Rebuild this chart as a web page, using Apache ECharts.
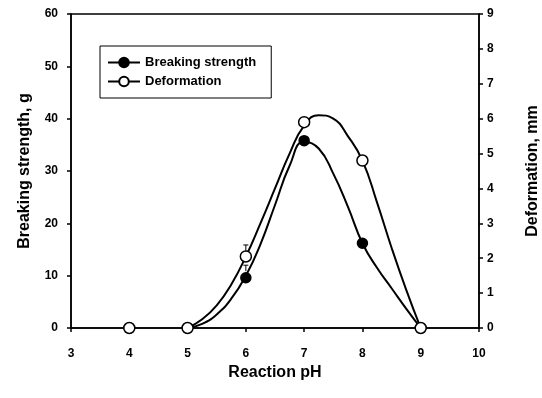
<!DOCTYPE html>
<html>
<head>
<meta charset="utf-8">
<script src="https://cdn.jsdelivr.net/npm/echarts@6/dist/echarts.min.js"></script>
<style>
  html, body { margin: 0; padding: 0; background: #fff; }
  #chart { width: 542px; height: 398px; }
</style>
</head>
<body>
<div id="chart"></div>
<script>
// measured points
const phLevels = [4, 5, 6, 7, 8, 9];
const breakingStrength = [0, 0, 9.6, 35.8, 16.2, 0];   // g
const deformation = [0, 0, 2.05, 5.9, 4.8, 0];         // mm

// error bar tops (pH 6 only visible)
const breakingErrTop = [[6, 12.0]];
const deformErrTop = [[6, 2.38]];

// fitted curves
const fitPh = [5.0, 5.25, 5.5, 5.75, 6.0, 6.25, 6.5, 6.75, 7.0, 7.25, 7.5, 7.75, 8.0, 8.25, 8.5, 8.75, 9.0];
const breakingFit = [0, 0.8, 2.6, 5.6, 10.0, 16.0, 23.5, 31.0, 35.6, 34.3, 29.5, 23.2, 16.2, 11.5, 7.6, 3.7, 0];
const deformFit = [0, 0.25, 0.65, 1.25, 2.05, 3.0, 4.0, 5.0, 5.8, 6.1, 6.0, 5.5, 4.8, 3.6, 2.3, 1.1, 0];

const font = 'Liberation Sans, Arial, sans-serif';

const zip = (xs, ys) => xs.map((x, i) => [x, ys[i]]);

const chart = echarts.init(document.getElementById('chart'));

const errBar = (data, axisIdx) => ({
  type: 'custom',
  yAxisIndex: axisIdx,
  silent: true,
  z: 1,
  data: data,
  renderItem: (params, api) => {
    const top = api.coord([api.value(0), api.value(1)]);
    return {
      type: 'group',
      children: [
        { type: 'line', shape: { x1: top[0], y1: top[1], x2: top[0], y2: top[1] + 6 }, style: { stroke: '#000', lineWidth: 1 } },
        { type: 'line', shape: { x1: top[0] - 2.5, y1: top[1], x2: top[0] + 2.5, y2: top[1] }, style: { stroke: '#000', lineWidth: 1 } }
      ]
    };
  }
});

const option = {
  animation: false,
  grid: {
    left: 71, right: 63, top: 14, bottom: 70,
    outerBoundsMode: 'none',
    show: true, borderColor: '#000', borderWidth: 1.5
  },
  legend: {
    orient: 'vertical',
    left: 100, top: 46,
    padding: [10, 15, 10, 7],
    itemGap: 6,
    itemWidth: 32, itemHeight: 12,
    borderColor: '#000', borderWidth: 1,
    textStyle: { fontFamily: font, fontWeight: 'bold', fontSize: 13, color: '#000' },
    data: ['Breaking strength', 'Deformation']
  },
  xAxis: {
    type: 'value', min: 3, max: 10, interval: 1,
    name: 'Reaction pH', nameLocation: 'middle', nameGap: 37,
    nameTextStyle: { fontFamily: font, fontWeight: 'bold', fontSize: 16, color: '#000' },
    axisLine: { lineStyle: { color: '#000', width: 1.5 } },
    axisTick: { inside: false, length: 4, lineStyle: { color: '#000', width: 1.5 } },
    axisLabel: { fontFamily: font, fontWeight: 'bold', fontSize: 12, color: '#000', margin: 20 },
    splitLine: { show: false }
  },
  yAxis: [
    {
      type: 'value', min: 0, max: 60, interval: 10,
      name: 'Breaking strength, g', nameLocation: 'middle', nameGap: 38,
      nameTextStyle: { fontFamily: font, fontWeight: 'bold', fontSize: 16, color: '#000' },
      axisLine: { show: true, lineStyle: { color: '#000', width: 1.5 } },
      axisTick: { show: true, length: 4, lineStyle: { color: '#000', width: 1.5 } },
      axisLabel: { fontFamily: font, fontWeight: 'bold', fontSize: 12, color: '#000', margin: 13 },
      splitLine: { show: false }
    },
    {
      type: 'value', min: 0, max: 9, interval: 1, position: 'right',
      name: 'Deformation, mm', nameLocation: 'middle', nameGap: 46, nameRotate: 90,
      nameTextStyle: { fontFamily: font, fontWeight: 'bold', fontSize: 16, color: '#000' },
      axisLine: { show: true, lineStyle: { color: '#000', width: 1.5 } },
      axisTick: { show: true, length: 4, lineStyle: { color: '#000', width: 1.5 } },
      axisLabel: { fontFamily: font, fontWeight: 'bold', fontSize: 12, color: '#000', margin: 8 },
      splitLine: { show: false }
    }
  ],
  series: [
    {
      name: 'Breaking strength', type: 'line', yAxisIndex: 0,
      data: zip(fitPh, breakingFit), smooth: 0.5, showSymbol: false,
      symbol: 'circle', symbolSize: 10,
      lineStyle: { color: '#000', width: 2 },
      itemStyle: { color: '#000', borderColor: '#000', borderWidth: 1.5 },
      z: 2
    },
    {
      name: 'Breaking strength', type: 'scatter', yAxisIndex: 0,
      data: zip(phLevels, breakingStrength),
      symbol: 'circle', symbolSize: 10,
      itemStyle: { color: '#000', borderColor: '#000', borderWidth: 1.5, opacity: 1 },
      z: 3
    },
    {
      name: 'Deformation', type: 'line', yAxisIndex: 1,
      data: zip(fitPh, deformFit), smooth: 0.5, showSymbol: false,
      symbol: 'circle', symbolSize: 10,
      lineStyle: { color: '#000', width: 2 },
      itemStyle: { color: '#fff', borderColor: '#000', borderWidth: 1.5 },
      z: 4
    },
    {
      name: 'Deformation', type: 'scatter', yAxisIndex: 1,
      data: zip(phLevels, deformation),
      symbol: 'circle', symbolSize: 11,
      itemStyle: { color: '#fff', borderColor: '#000', borderWidth: 1.5, opacity: 1 },
      z: 5
    },
    errBar(breakingErrTop, 0),
    errBar(deformErrTop, 1)
  ]
};

chart.setOption(option);
</script>
</body>
</html>
